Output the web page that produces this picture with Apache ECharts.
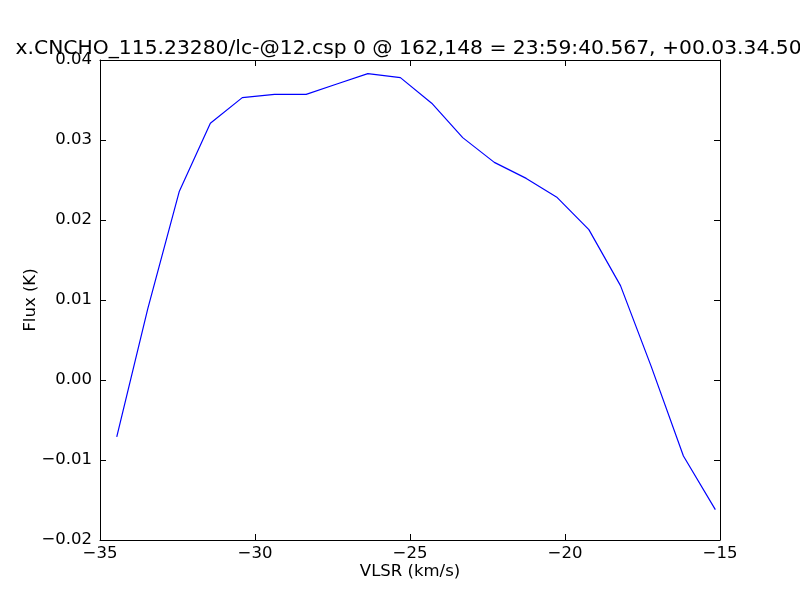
<!DOCTYPE html>
<html>
<head>
<meta charset="utf-8">
<script src="https://cdn.jsdelivr.net/npm/echarts@6/dist/echarts.min.js"></script>
<style>html,body{margin:0;padding:0;background:#fff;}#c{width:800px;height:600px;}</style>
</head>
<body>
<div id="c"></div>
<script>
const titleText = "x.CNCHO_115.23280/lc-@12.csp 0 @ 162,148 = 23:59:40.567, +00.03.34.500";
const xName = "VLSR (km/s)";
const yName = "Flux (K)";
const vlsr = [-34.46, -33.46, -32.44, -31.44, -30.41, -29.37, -28.35, -27.36, -26.36, -25.31,
              -24.30, -23.30, -22.28, -21.25, -20.25, -19.23, -18.21, -17.22, -16.18, -15.15];
const flux = [-0.0071, 0.0089, 0.0236, 0.0321, 0.0353, 0.0357, 0.0357, 0.0370, 0.0383, 0.0378,
              0.0346, 0.0303, 0.0272, 0.0252, 0.0228, 0.0188, 0.0118, 0.0017, -0.0095, -0.0162];
const xTicks = [-35, -30, -25, -20, -15];
const yTicks = [-0.02, -0.01, 0.00, 0.01, 0.02, 0.03, 0.04];

const font = "DejaVu Sans";
const minus = s => s.replace('-', '\u2212');
const pts = vlsr.map((v, i) => [v, flux[i]]);

const chart = echarts.init(document.getElementById('c'), null, {renderer: 'canvas'});
const tickStyle = {show: true, inside: true, length: 6, lineStyle: {color: '#000', width: 1}};
const baseX = {
  type: 'value', min: xTicks[0], max: xTicks[xTicks.length - 1], interval: 5,
  splitLine: {show: false},
  axisLine: {show: true, onZero: false, lineStyle: {color: '#000', width: 1}},
  axisTick: tickStyle
};
const baseY = {
  type: 'value', min: yTicks[0], max: yTicks[yTicks.length - 1], interval: 0.01,
  splitLine: {show: false},
  axisLine: {show: true, onZero: false, lineStyle: {color: '#000', width: 1}},
  axisTick: tickStyle
};
chart.setOption({
  animation: false,
  backgroundColor: '#fff',
  title: {
    text: titleText, left: 410, top: 34, textAlign: 'center',
    textStyle: {fontFamily: font, fontSize: 20.3, fontWeight: 'normal', color: '#000'}
  },
  grid: {left: 100, right: 80, top: 60, bottom: 60, show: false},
  xAxis: [
    Object.assign({}, baseX, {
      position: 'bottom',
      name: xName, nameLocation: 'middle', nameGap: 23, nameMoveOverlap: false,
      nameTextStyle: {fontFamily: font, fontSize: 16.5, color: '#000'},
      axisLabel: {show: true, margin: 5, fontFamily: font, fontSize: 16.5, color: '#000',
        formatter: v => minus(String(v))}
    }),
    Object.assign({}, baseX, {position: 'top', axisLabel: {show: false}})
  ],
  yAxis: [
    Object.assign({}, baseY, {
      position: 'left',
      name: yName, nameLocation: 'middle', nameGap: 61, nameMoveOverlap: false,
      nameTextStyle: {fontFamily: font, fontSize: 16.5, color: '#000'},
      axisLabel: {show: true, margin: 8, fontFamily: font, fontSize: 16.5, color: '#000',
        formatter: v => minus((Math.round(v * 100) / 100).toFixed(2)).replace('\u22120.00', '0.00')}
    }),
    Object.assign({}, baseY, {position: 'right', axisLabel: {show: false}})
  ],
  series: [{
    type: 'line', data: pts, showSymbol: false, symbol: 'none',
    lineStyle: {color: '#0000ff', width: 1.2}, xAxisIndex: 0, yAxisIndex: 0
  }]
});
</script>
</body>
</html>
